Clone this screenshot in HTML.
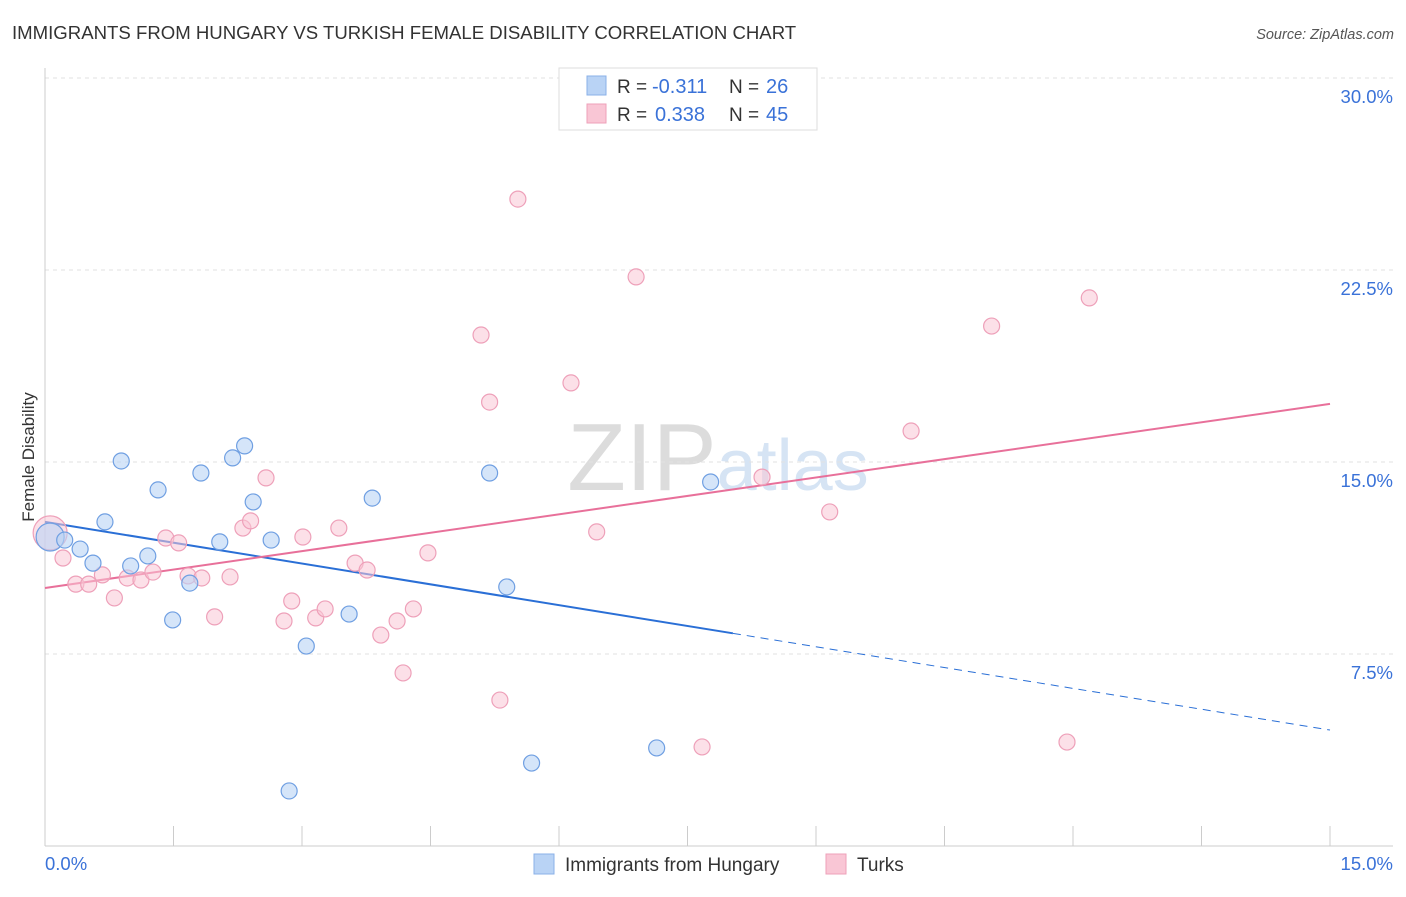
<!DOCTYPE html>
<html><head><meta charset="utf-8"><style>
body{margin:0;background:#fff;font-family:"Liberation Sans",sans-serif;}
svg text{font-family:"Liberation Sans",sans-serif;}
</style></head><body>
<svg width="1406" height="892" xmlns="http://www.w3.org/2000/svg" id="chart">
<text x="12" y="39" font-size="18.6" fill="#333">IMMIGRANTS FROM HUNGARY VS TURKISH FEMALE DISABILITY CORRELATION CHART</text>
<text x="1394" y="39" font-size="14.5" fill="#555" font-style="italic" text-anchor="end">Source: ZipAtlas.com</text>
<text x="718" y="490" font-size="96" fill="#e4e4e4" text-anchor="middle" font-family="Liberation Serif"><tspan fill="#dcdcdc">ZIP</tspan><tspan fill="#d6e4f4" font-family="Liberation Sans" font-size="72">atlas</tspan></text>
<text transform="translate(34,457) rotate(-90)" font-size="17" fill="#333" text-anchor="middle">Female Disability</text>
<g id="grid"></g><g id="trend"></g><g id="pts"></g>
<g>
<rect x="559" y="68" width="258" height="62" fill="#fff" stroke="#ddd"/>
<rect x="587" y="76" width="19" height="19" fill="#b9d3f5" stroke="#8ab0e8"/>
<rect x="587" y="104" width="19" height="19" fill="#f9c6d5" stroke="#eea0b9"/>
<text x="617" y="93" font-size="19" fill="#333">R =</text>
<text x="652" y="93" font-size="20" fill="#3a72d8">-0.311</text>
<text x="729" y="93" font-size="19" fill="#333">N =</text>
<text x="766" y="93" font-size="20" fill="#3a72d8">26</text>
<text x="617" y="121" font-size="19" fill="#333">R =</text>
<text x="655" y="121" font-size="20" fill="#3a72d8">0.338</text>
<text x="729" y="121" font-size="19" fill="#333">N =</text>
<text x="766" y="121" font-size="20" fill="#3a72d8">45</text>
</g>
<g>
<rect x="534" y="854" width="20" height="20" fill="#b9d3f5" stroke="#8ab0e8"/>
<text x="565" y="871" font-size="19" fill="#333">Immigrants from Hungary</text>
<rect x="826" y="854" width="20" height="20" fill="#f9c6d5" stroke="#eea0b9"/>
<text x="857" y="871" font-size="19" fill="#333">Turks</text>
</g>
</svg>
<script>
const yTicks=[7.5,15,22.5,30];
const yTickLabels=["7.5%","15.0%","22.5%","30.0%"];
const xTickLabels=["0.0%","15.0%"];
const hungaryX=[0.06,0.23,0.41,0.56,0.70,0.89,1.00,1.20,1.32,1.49,1.69,1.82,2.04,2.19,2.33,2.43,2.64,2.85,3.05,3.55,3.82,5.19,5.39,5.68,7.14,7.77];
const hungaryY=[12.07,11.95,11.60,11.05,12.66,15.04,10.94,11.33,13.91,8.83,10.27,14.57,11.88,15.16,15.63,13.44,11.95,2.15,7.81,9.06,13.59,14.57,10.12,3.24,3.83,14.22];
const turksX=[0.06,0.21,0.36,0.51,0.67,0.81,0.96,1.12,1.26,1.41,1.56,1.67,1.83,1.98,2.16,2.31,2.40,2.58,2.79,2.88,3.01,3.16,3.27,3.43,3.62,3.76,3.92,4.11,4.18,4.30,4.47,5.09,5.19,5.31,5.52,6.14,6.44,6.90,7.67,8.37,9.16,10.11,11.05,11.93,12.19];
const turksY=[12.23,11.25,10.23,10.23,10.59,9.69,10.47,10.39,10.70,12.03,11.84,10.55,10.47,8.95,10.51,12.42,12.70,14.38,8.79,9.57,12.07,8.91,9.26,12.42,11.05,10.78,8.24,8.79,6.76,9.26,11.45,19.96,17.34,5.70,25.27,18.09,12.27,22.23,3.87,14.41,13.05,16.21,20.31,4.06,21.41];
const hungaryTrend=[12.66,4.53];
const hungarySolidEnd=8.03;
const turksTrend=[10.08,17.27];
const NS="http://www.w3.org/2000/svg";
const sx=v=>45+v/15*1285, sy=v=>846-v/7.5*192;
function mk(tag,attrs,parent){const e=document.createElementNS(NS,tag);for(const k in attrs)e.setAttribute(k,attrs[k]);document.getElementById(parent).appendChild(e);return e;}
yTicks.forEach((t,i)=>{
 const l=mk('line',{x1:45,x2:1393,y1:sy(t),y2:sy(t),stroke:'#e2e2e2','stroke-dasharray':'4,4'},'grid');
 
 
 const tx=mk('text',{x:1393,y:sy(t)+25,'font-size':18.5,fill:'#3a72d8','text-anchor':'end'},'grid');
 tx.textContent=yTickLabels[i];
 
 
});
mk('line',{x1:45,x2:45,y1:68,y2:846,stroke:'#ccc'},'grid');
mk('line',{x1:45,x2:1393,y1:846,y2:846,stroke:'#ccc'},'grid');
for(let i=0;i<=10;i++){const l=mk('line',{x1:sx(i*1.5),x2:sx(i*1.5),y1:826,y2:846,stroke:'#ccc'},'grid');
 
 }
let a=mk('text',{x:45,y:870,'font-size':18.5,fill:'#3a72d8'},'grid');a.textContent=xTickLabels[0];


a=mk('text',{x:1393,y:870,'font-size':18.5,fill:'#3a72d8','text-anchor':'end'},'grid');a.textContent=xTickLabels[1];


const hy=x=>hungaryTrend[0]+(hungaryTrend[1]-hungaryTrend[0])*x/15;
let t=mk('line',{x1:sx(0),y1:sy(hy(0)),x2:sx(hungarySolidEnd),y2:sy(hy(hungarySolidEnd)),stroke:'#2a6fd6','stroke-width':2},'trend');


t=mk('line',{x1:sx(hungarySolidEnd),y1:sy(hy(hungarySolidEnd)),x2:sx(15),y2:sy(hy(15)),stroke:'#2a6fd6','stroke-width':1,'stroke-dasharray':'8,6'},'trend');


t=mk('line',{x1:sx(0),y1:sy(turksTrend[0]),x2:sx(15),y2:sy(turksTrend[1]),stroke:'#e8709a','stroke-width':2},'trend');


turksX.forEach((x,i)=>{const c=mk('circle',{cx:sx(x),cy:sy(turksY[i]),r:i==0?17:8,fill:'rgba(249,198,213,0.55)',stroke:'#eea0b9','stroke-width':1.2},'pts');
 
 });
hungaryX.forEach((x,i)=>{const c=mk('circle',{cx:sx(x),cy:sy(hungaryY[i]),r:i==0?14:8,fill:'rgba(185,211,245,0.6)',stroke:'#6f9fe2','stroke-width':1.2},'pts');
 
 });
</script>
</body></html>
